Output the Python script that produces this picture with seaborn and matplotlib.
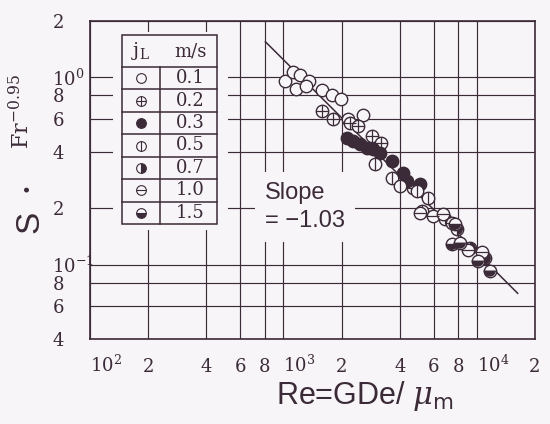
import matplotlib
matplotlib.use("Agg")
import matplotlib.pyplot as plt
import seaborn as sns
import pandas as pd
from matplotlib.markers import MarkerStyle
from matplotlib.patches import Rectangle
from matplotlib.lines import Line2D

# ---------------- data ----------------
jl_labels = ["0.1", "0.2", "0.3", "0.5", "0.7", "1.0", "1.5"]

re_01 = [1024, 1126, 1224, 1361, 1167, 1314, 1589, 1789, 1991, 2163, 2584]
s_01 = [0.952, 1.063, 1.025, 0.952, 0.863, 0.896, 0.853, 0.802, 0.764, 0.598, 0.628]

re_02 = [1589, 1810, 2215, 2433, 2874, 3202, 4677]
s_02 = [0.659, 0.598, 0.569, 0.549, 0.486, 0.446, 0.257]

re_03 = [2136, 2294, 2491, 2706, 2909, 3165, 3646, 4151, 4356, 5085]
s_03 = [0.474, 0.457, 0.440, 0.419, 0.414, 0.394, 0.357, 0.309, 0.280, 0.270]

re_05 = [2976, 3646, 4007, 4907, 5591, 5207]
s_05 = [0.345, 0.290, 0.263, 0.248, 0.227, 0.194]

re_07 = [6840, 7888, 9206, 10990]
s_07 = [0.176, 0.155, 0.122, 0.108]

re_10 = [5085, 5930, 6682, 7432, 8990, 10610]
s_10 = [0.189, 0.182, 0.187, 0.167, 0.119, 0.116]

re_15 = [7702, 7432, 8168, 10120, 11670]
s_15 = [0.165, 0.129, 0.131, 0.105, 0.0929]

fit_re = [807, 16270]
fit_s = [1.55, 0.0702]
slope_label = "Slope\n= \u22121.03"

x_ticks = [1e2, 2e2, 4e2, 6e2, 8e2, 1e3, 2e3, 4e3, 6e3, 8e3, 1e4, 2e4]
x_ticklabels = [r"$10^{2}$", "2", "4", "6", "8", r"$10^{3}$", "2", "4", "6", "8", r"$10^{4}$", "2"]
y_ticks = [0.04, 0.06, 0.08, 0.1, 0.2, 0.4, 0.6, 0.8, 1.0, 2.0]
y_ticklabels = ["4", "6", "8", r"$10^{-1}$", "2", "4", "6", "8", r"$10^{0}$", "2"]

# ---------------- style ----------------
INK = "#3b2a38"
BG = "#f7f5f7"
plt.rcParams["mathtext.fontset"] = "dejavuserif"

series = [
    ("0.1", re_01, s_01, "open", None),
    ("0.2", re_02, s_02, "open", "+"),
    ("0.3", re_03, s_03, "full", None),
    ("0.5", re_05, s_05, "open", "|"),
    ("0.7", re_07, s_07, "right", None),
    ("1.0", re_10, s_10, "open", "_"),
    ("1.5", re_15, s_15, "bottom", None),
]

fig = plt.figure(figsize=(5.5, 4.24), dpi=100, facecolor=BG)
L, R, T, B = 90, 535, 21, 339  # axes box in image pixels
ax = fig.add_axes([L / 550, 1 - B / 424, (R - L) / 550, (B - T) / 424])
ax.set_facecolor(BG)


def axx(px):
    return (px - L) / (R - L)


def axy(py):
    return (B - py) / (B - T)


ax.set_xscale("log")
ax.set_yscale("log")
ax.set_xlim(1e2, 2e4)
ax.set_ylim(0.04, 2.0)

ax.set_xticks(x_ticks)
ax.set_xticklabels(x_ticklabels)
ax.set_yticks(y_ticks)
ax.set_yticklabels(y_ticklabels)
ax.minorticks_off()
ax.tick_params(axis="both", length=0, labelsize=13, labelcolor=INK)
ax.tick_params(axis="x", pad=23.5)
ax.tick_params(axis="y", pad=27)
for lbl in ax.get_xticklabels():
    lbl.set_fontfamily("DejaVu Serif")
    lbl.set_va("baseline")
    if "10" in lbl.get_text():
        lbl.set_ha("left")
for lbl in ax.get_yticklabels():
    lbl.set_fontfamily("DejaVu Serif")
    lbl.set_ha("left")

ax.set_axisbelow(True)
ax.grid(True, which="major", color=INK, lw=0.85)
for sp in ax.spines.values():
    sp.set_color(INK)
    sp.set_linewidth(1.2)

# masks that interrupt the grid (legend table and slope annotation)
ax.add_patch(Rectangle((axx(113), axy(230)), axx(228) - axx(113), axy(32) - axy(230),
                       transform=ax.transAxes, facecolor=BG, edgecolor="none", zorder=1))

# fit line
sns.lineplot(x=fit_re, y=fit_s, ax=ax, color=INK, lw=1.1, zorder=2.8)

# data points
S = 80
EW = 1.0
for lab, xs, ys, fill, over in series:
    face = INK if fill == "full" else BG
    sns.scatterplot(x=xs, y=ys, ax=ax, marker="o", s=S, color=face,
                    edgecolor=INK, linewidth=EW, zorder=3)
    if fill in ("right", "bottom"):
        sns.scatterplot(x=xs, y=ys, ax=ax, marker=MarkerStyle("o", fillstyle=fill),
                        s=S, color=INK, edgecolor="none", linewidth=0, zorder=3)
    if over is not None:
        sns.scatterplot(x=xs, y=ys, ax=ax, marker=over, s=S, color=INK,
                        linewidth=EW * 0.9, zorder=3)

# slope annotation
ax.text(axx(265), axy(207), slope_label, transform=ax.transAxes, ha="left", va="center",
        fontsize=17, family="Liberation Sans", color=INK, linespacing=1.35,
        bbox=dict(facecolor=BG, edgecolor="none", pad=7), zorder=2)

# legend table
lx0, lx1, ly0, ly1 = axx(122), axx(217), axy(224), axy(35)
hdr = axy(67)
div = axx(160)
tw = 1.1
ax.add_patch(Rectangle((lx0, ly0), lx1 - lx0, ly1 - ly0, transform=ax.transAxes,
                       facecolor=BG, edgecolor=INK, lw=tw, zorder=4))
ax.add_line(Line2D([lx0, lx1], [hdr, hdr], transform=ax.transAxes, color=INK, lw=tw, zorder=4))
ax.add_line(Line2D([div, div], [ly0, hdr], transform=ax.transAxes, color=INK, lw=tw, zorder=4))
n = len(series)
rh = (hdr - ly0) / n
for i in range(1, n):
    yy = hdr - i * rh
    ax.add_line(Line2D([lx0, lx1], [yy, yy], transform=ax.transAxes, color=INK, lw=tw, zorder=4))
ax.text(axx(140), (ly1 + hdr) / 2, r"j$_{\mathrm{L}}$", transform=ax.transAxes, ha="center",
        va="center", fontsize=14, family="DejaVu Serif", color=INK, zorder=5)
ax.text(axx(190), (ly1 + hdr) / 2, "m/s", transform=ax.transAxes, ha="center",
        va="center", fontsize=13, family="DejaVu Serif", color=INK, zorder=5)
mx = axx(141)
for i, (lab, xs, ys, fill, over) in enumerate(series):
    yc = hdr - (i + 0.5) * rh
    kw = dict(transform=ax.transAxes, ls="none", marker="o", ms=7, mec=INK, mew=0.8,
              zorder=5, clip_on=False)
    if fill == "open":
        ax.plot([mx], [yc], mfc=BG, **kw)
    elif fill == "full":
        ax.plot([mx], [yc], mfc=INK, **kw)
    else:
        ax.plot([mx], [yc], mfc=INK, mfcalt=BG, fillstyle=fill, **kw)
    if over is not None:
        ax.plot([mx], [yc], transform=ax.transAxes, ls="none", marker=over, ms=7,
                mec=INK, mew=0.8, zorder=6, clip_on=False)
    ax.text(axx(190), yc, lab, transform=ax.transAxes, ha="center", va="center",
            fontsize=13, family="DejaVu Serif", color=INK, zorder=5)

# axis titles
fig.text(365 / 550, 1 - 404 / 424, r"Re=GDe/ $\mu_{\mathsf{m}}$", ha="center", va="baseline",
         fontsize=22, family="Liberation Sans", color=INK)
fig.text(30 / 550, 1 - 222 / 424, "S", rotation=90, ha="center", va="center",
         fontsize=24, family="Liberation Sans", color=INK)
fig.text(27 / 550, 1 - 187 / 424, "\u2022", rotation=90, ha="center", va="center",
         fontsize=12, family="DejaVu Sans", color=INK)
fig.text(22 / 550, 1 - 112 / 424, r"Fr$^{-0.95}$", rotation=90, ha="center", va="center",
         fontsize=16, family="DejaVu Serif", color=INK)

fig.savefig("out.png", dpi=100, facecolor=BG)
